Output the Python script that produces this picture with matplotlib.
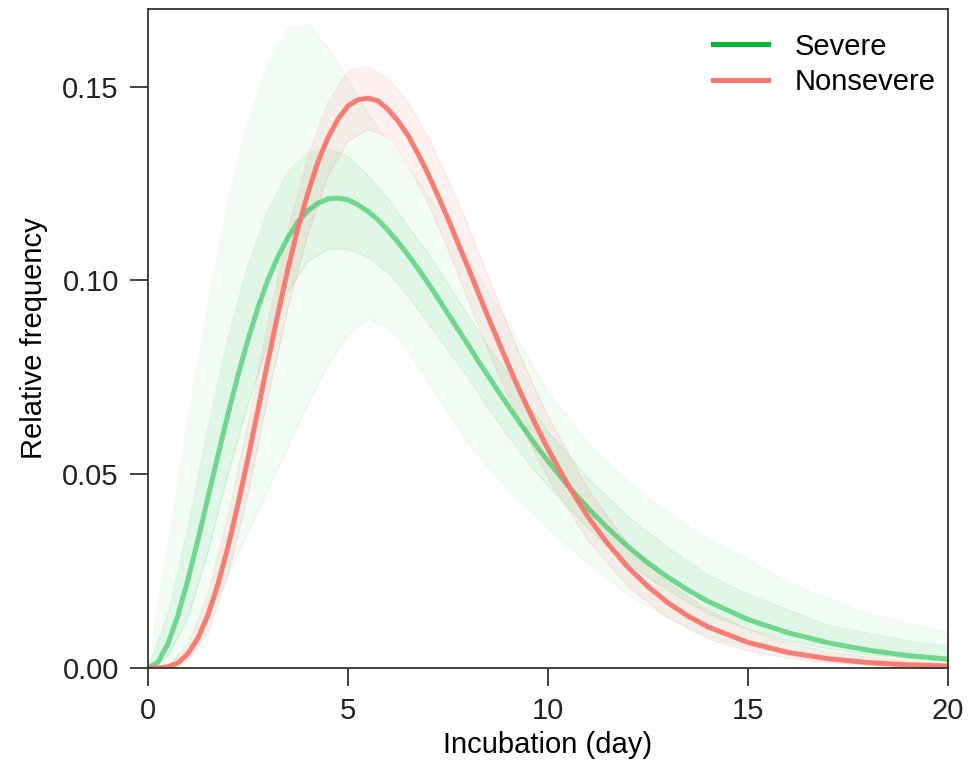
import numpy as np
import matplotlib
matplotlib.use("Agg")
import matplotlib.pyplot as plt
from matplotlib.lines import Line2D

plt.rcParams["font.family"] = ["Liberation Sans", "DejaVu Sans"]

days = [0, 0.25, 0.5, 0.75, 1, 1.25, 1.5, 1.75, 2, 2.25, 2.5, 2.75, 3, 3.25, 3.5, 3.75,
        4, 4.25, 4.5, 4.75, 5, 5.25, 5.5, 5.75, 6, 6.25, 6.5, 6.75, 7, 7.25, 7.5, 7.75,
        8, 8.25, 8.5, 8.75, 9, 9.25, 9.5, 9.75, 10, 10.5, 11, 11.5, 12, 12.5, 13, 13.5,
        14, 15, 16, 17, 18, 19, 20]

severe = [0, 0.0015, 0.0063, 0.0136, 0.0228, 0.0331, 0.044, 0.0549, 0.0655, 0.0755,
          0.0847, 0.093, 0.1002, 0.1061, 0.1111, 0.1151, 0.118, 0.1199, 0.121, 0.1212,
          0.1208, 0.1195, 0.1178, 0.1156, 0.1129, 0.1099, 0.1066, 0.103, 0.0993, 0.0954,
          0.0914, 0.0874, 0.0834, 0.0793, 0.0754, 0.0715, 0.0677, 0.0639, 0.0603, 0.0567,
          0.0534, 0.047, 0.0412, 0.036, 0.0313, 0.0271, 0.0234, 0.0201, 0.0172, 0.0125,
          0.0091, 0.0065, 0.0046, 0.0032, 0.0023]
nonsevere = [0, 0.0, 0.0003, 0.0013, 0.0037, 0.0077, 0.0137, 0.0216, 0.0312, 0.0422,
             0.0541, 0.0666, 0.0792, 0.0914, 0.103, 0.1135, 0.1226, 0.1306, 0.1368, 0.1416,
             0.145, 0.1466, 0.147, 0.1463, 0.1441, 0.1411, 0.1374, 0.1327, 0.1275, 0.1218,
             0.1159, 0.1096, 0.1034, 0.097, 0.0906, 0.0845, 0.0784, 0.0725, 0.0669, 0.0616,
             0.0565, 0.0472, 0.039, 0.032, 0.026, 0.021, 0.0168, 0.0134, 0.0106, 0.0066,
             0.004, 0.0024, 0.0014, 0.0008, 0.0005]

# spread of the bootstrap curves (outer and denser inner band)
band_days = [0, 0.5, 1, 1.5, 2, 2.5, 3, 3.5, 4, 4.5, 5, 5.5, 6, 6.5, 7, 7.5, 8, 8.5, 9,
             9.5, 10, 11, 12, 13, 14, 15, 16, 17, 18, 19, 20]
severe_hi = [0, 0.032, 0.064, 0.094, 0.12, 0.141, 0.156, 0.165, 0.166, 0.16, 0.152, 0.143,
             0.136, 0.129, 0.122, 0.114, 0.106, 0.097, 0.089, 0.08, 0.071, 0.058, 0.048,
             0.04, 0.033, 0.028, 0.022, 0.018, 0.014, 0.0115, 0.0094]
severe_lo = [0, 0.0005, 0.005, 0.013, 0.024, 0.035, 0.046, 0.057, 0.068, 0.078, 0.086, 0.09,
             0.088, 0.082, 0.074, 0.066, 0.058, 0.052, 0.046, 0.041, 0.036, 0.027, 0.019,
             0.013, 0.008, 0.0055, 0.0038, 0.0027, 0.002, 0.0015, 0.001]
severe_hi2 = [0, 0.014, 0.036, 0.062, 0.085, 0.104, 0.118, 0.128, 0.133, 0.134, 0.132, 0.127,
              0.121, 0.114, 0.107, 0.099, 0.091, 0.083, 0.076, 0.068, 0.061, 0.049, 0.039,
              0.031, 0.024, 0.019, 0.015, 0.011, 0.009, 0.007, 0.0055]
severe_lo2 = [0, 0.003, 0.013, 0.03, 0.05, 0.068, 0.084, 0.097, 0.105, 0.108, 0.108, 0.106,
              0.102, 0.096, 0.089, 0.082, 0.075, 0.067, 0.06, 0.053, 0.047, 0.036, 0.027,
              0.02, 0.014, 0.01, 0.007, 0.005, 0.0035, 0.0025, 0.0017]
nonsevere_hi = [0, 0.0008, 0.006, 0.019, 0.039, 0.063, 0.089, 0.113, 0.132, 0.146, 0.154,
                0.155, 0.152, 0.146, 0.137, 0.126, 0.114, 0.101, 0.088, 0.076, 0.065, 0.046,
                0.032, 0.022, 0.015, 0.01, 0.0065, 0.0042, 0.0028, 0.0018, 0.0012]
nonsevere_lo = [0, 0.0001, 0.002, 0.009, 0.024, 0.045, 0.07, 0.093, 0.112, 0.127, 0.136,
                0.139, 0.137, 0.13, 0.12, 0.108, 0.095, 0.082, 0.07, 0.059, 0.049, 0.033,
                0.021, 0.013, 0.0075, 0.0045, 0.0025, 0.0014, 0.0008, 0.0004, 0.0002]

green = "#00BA38"
red = "#F8766D"

fig = plt.figure(figsize=(9.71, 7.78), dpi=100)
ax = fig.add_axes([148 / 971, 110 / 778, 800 / 971, 659 / 778])

ax.fill_between(band_days, severe_lo, severe_hi, color=green, alpha=0.05, lw=0)
ax.fill_between(band_days, severe_lo2, severe_hi2, color=green, alpha=0.07, lw=0)
ax.fill_between(band_days, nonsevere_lo, nonsevere_hi, color=red, alpha=0.10, lw=0)
for band in (severe_hi, severe_lo):
    ax.plot(band_days, band, color=green, alpha=0.06, lw=0.8)
for band in (severe_hi2, severe_lo2):
    ax.plot(band_days, band, color=green, alpha=0.10, lw=0.8)
for band in (nonsevere_hi, nonsevere_lo):
    ax.plot(band_days, band, color=red, alpha=0.15, lw=0.8)

ax.plot(days, severe, color=green, alpha=0.5, lw=3.6, solid_joinstyle="round")
ax.plot(days, nonsevere, color=red, alpha=0.95, lw=3.6, solid_joinstyle="round")

ax.set_xlim(0, 20)
ax.set_ylim(0, 0.17)
ax.set_xticks([0, 5, 10, 15, 20])
ax.set_yticks([0, 0.05, 0.10, 0.15])
ax.set_yticklabels(["0.00", "0.05", "0.10", "0.15"])
ax.tick_params(direction="out", length=13, width=1.2, labelsize=21, colors="#222222", pad=8)
for s in ax.spines.values():
    s.set_linewidth(1.3)
    s.set_color("#333333")
ax.set_xlabel("Incubation (day)", fontsize=21, labelpad=4)
ax.set_ylabel("Relative frequency", fontsize=21, labelpad=10)

handles = [Line2D([], [], color=green, lw=3.6), Line2D([], [], color=red, lw=3.6)]
ax.legend(handles, ["Severe", "Nonsevere"], loc="upper right", frameon=False, fontsize=21,
          handlelength=1.9, handletextpad=0.9, labelspacing=0.25,
          bbox_to_anchor=(1.017, 1.004))

fig.savefig("out.png", dpi=100)
